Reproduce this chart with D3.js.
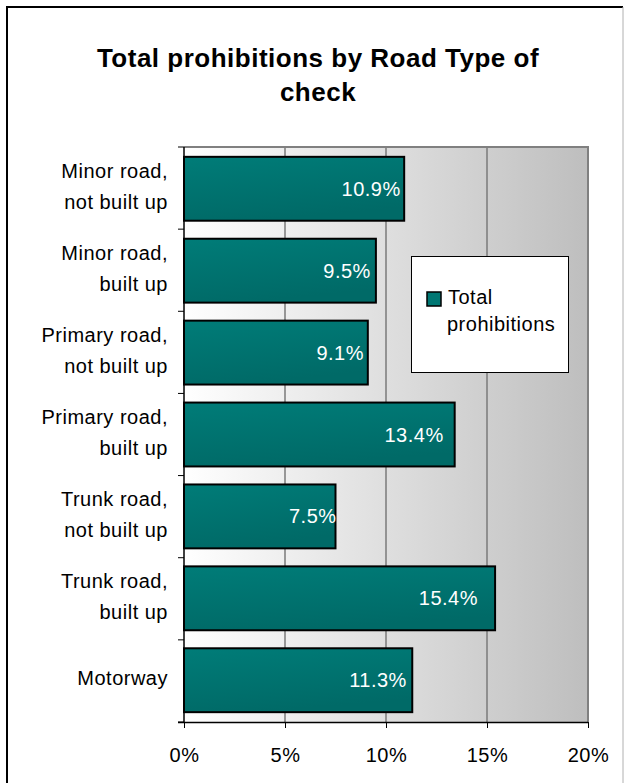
<!DOCTYPE html>
<html><head><meta charset="utf-8">
<script src="https://cdn.jsdelivr.net/npm/d3@7"></script>
<style>body{margin:0;background:#fff;} svg{display:block;font-family:Arial,"Liberation Sans",sans-serif;}</style>
</head><body>
<svg id="c" width="624" height="783"></svg>
<script>
const categories = [
  ["Minor road,","not built up"],
  ["Minor road,","built up"],
  ["Primary road,","not built up"],
  ["Primary road,","built up"],
  ["Trunk road,","not built up"],
  ["Trunk road,","built up"],
  ["Motorway"]
];
const values = [10.9, 9.5, 9.1, 13.4, 7.5, 15.4, 11.3];
const xTicks = [0, 5, 10, 15, 20];
const titleLines = ["Total prohibitions by Road Type of", "check"];
const legendLines = ["Total", "prohibitions"];

const FS = 20, LS = 0.5;
const svg = d3.select("#c");
const defs = svg.append("defs");
const bg = defs.append("linearGradient").attr("id","bg").attr("x1","0").attr("x2","1").attr("y1","0").attr("y2","0");
bg.append("stop").attr("offset","0").attr("stop-color","#ffffff");
bg.append("stop").attr("offset","1").attr("stop-color","#bebebe");
const bf = defs.append("linearGradient").attr("id","bf").attr("x1","0").attr("x2","0.3").attr("y1","0").attr("y2","1");
bf.append("stop").attr("offset","0").attr("stop-color","#007c78");
bf.append("stop").attr("offset","1").attr("stop-color","#006a67");

// outer frame
svg.append("path").attr("d","M7,790 V7 H623").attr("fill","none").attr("stroke","#000").attr("stroke-width",2);
svg.append("line").attr("x1",623).attr("x2",623).attr("y1",7).attr("y2",783).attr("stroke","#b0b0b0").attr("stroke-width",1);

// title
svg.append("g").selectAll("text").data(titleLines).join("text")
  .attr("x",318).attr("y",(d,i)=>67+i*34).attr("text-anchor","middle")
  .attr("font-size",26).attr("letter-spacing",0.5).attr("font-weight","bold").attr("fill","#000").text(d=>d);

const pLeft = 184, pRight = 588, pTop = 147, pBottom = 722;
const x = d3.scaleLinear().domain([0,20]).range([pLeft,pRight]);
const y = d3.scaleBand().domain(d3.range(categories.length)).range([pTop,pBottom]).paddingInner(0.22).paddingOuter(0.12);

// plot bg
svg.append("rect").attr("x",pLeft).attr("y",pTop).attr("width",pRight-pLeft).attr("height",pBottom-pTop).attr("fill","url(#bg)");
// gridlines
svg.append("g").selectAll("line").data(xTicks.filter(t=>t>0)).join("line")
  .attr("x1",d=>x(d)).attr("x2",d=>x(d)).attr("y1",pTop).attr("y2",pBottom)
  .attr("stroke","#7a7a7a").attr("stroke-width",1.5);
// plot border top/right
svg.append("path").attr("d",`M${pLeft},${pTop} H${pRight} V${pBottom}`).attr("fill","none").attr("stroke","#808080").attr("stroke-width",2);

// bars
svg.append("g").selectAll("rect").data(values).join("rect")
  .attr("x",x(0)).attr("y",(d,i)=>y(i)).attr("width",d=>x(d)-x(0)).attr("height",y.bandwidth())
  .attr("fill","url(#bf)").attr("stroke","#000").attr("stroke-width",2);

// value labels
svg.append("g").selectAll("text").data(values).join("text")
  .attr("x",d=>x(d*0.85)).attr("y",(d,i)=>y(i)+y.bandwidth()/2+7)
  .attr("text-anchor","middle").attr("font-size",FS).attr("letter-spacing",LS).attr("fill","#fff")
  .text(d=>d.toFixed(1)+"%");

// x axis
const xa = svg.append("g").attr("transform",`translate(0,${pBottom})`)
  .call(d3.axisBottom(x).tickValues(xTicks).tickSize(6).tickSizeOuter(0).tickFormat(d=>d+"%"));
xa.select(".domain").attr("stroke","#000").attr("stroke-width",1.5).attr("d",`M${pLeft-6},0.5H${pRight}`);
xa.selectAll(".tick line").attr("stroke","#000");
xa.selectAll(".tick text").attr("font-size",FS).attr("letter-spacing",LS).attr("font-family","Arial,'Liberation Sans',sans-serif")
  .attr("fill","#000").attr("y",40).attr("dy",0);

// y axis line + ticks at band boundaries
svg.append("line").attr("x1",pLeft).attr("x2",pLeft).attr("y1",pTop).attr("y2",pBottom).attr("stroke","#000").attr("stroke-width",1.5);
const bounds = d3.range(categories.length+1).map(i=>pTop + i*(pBottom-pTop)/categories.length);
svg.append("g").selectAll("line").data(bounds).join("line")
  .attr("x1",pLeft-6).attr("x2",pLeft).attr("y1",d=>d).attr("y2",d=>d).attr("stroke","#000").attr("stroke-width",1);

// category labels
const cl = svg.append("g").selectAll("text").data(categories).join("text")
  .attr("text-anchor","end").attr("font-size",FS).attr("letter-spacing",LS).attr("fill","#000");
cl.each(function(d,i){
  const cy = y(i)+y.bandwidth()/2;
  const n = d.length;
  d3.select(this).selectAll("tspan").data(d).join("tspan")
    .attr("x",168).attr("y",(t,j)=>cy + 5 + (j-(n-1)/2)*31).text(t=>t);
});

// legend
const lg = svg.append("g");
lg.append("rect").attr("x",411.5).attr("y",256.5).attr("width",157).attr("height",116).attr("fill","#fff").attr("stroke","#000").attr("stroke-width",1);
lg.append("rect").attr("x",427).attr("y",292).attr("width",14).attr("height",14).attr("fill","#007773").attr("stroke","#000").attr("stroke-width",1.5);
lg.selectAll("text").data(legendLines).join("text")
  .attr("x",(d,i)=>i===0?448:447).attr("y",(d,i)=>304+i*27).attr("font-size",FS).attr("letter-spacing",LS).attr("fill","#000").text(d=>d);
</script>
</body></html>
